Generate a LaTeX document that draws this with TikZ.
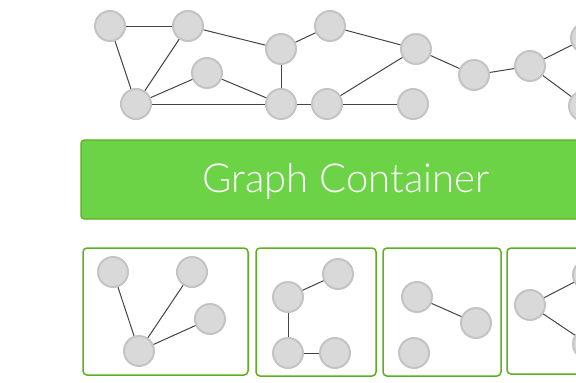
\documentclass[tikz,border=0pt]{standalone}
\usepackage{fontspec}
\newfontfamily\boxfont{Lato Light}
\usepackage{tikz}
\usetikzlibrary{positioning}
\definecolor{nodefill}{HTML}{D9D9D9}
\definecolor{nodeline}{HTML}{C4C4C4}
\definecolor{edgecol}{HTML}{444444}
\definecolor{greenfill}{HTML}{6CD346}
\definecolor{greenline}{HTML}{5BB01E}

\begin{document}
\begin{tikzpicture}[
    x=1pt, y=-1pt,
    vertex/.style={circle, draw=nodeline, fill=nodefill, line width=2pt, minimum size=30pt, inner sep=0pt},
    link/.style={draw=edgecol, line width=1pt},
    container/.style={rectangle, draw=greenline, fill=greenfill, line width=1.2pt, rounded corners=3pt},
    part/.style={rectangle, draw=greenline, line width=1.5pt, rounded corners=4pt}
]
\useasboundingbox (0,0) rectangle (576,383);
% Whole graph
\node[vertex] (a) at (110,26) {};
\node[vertex] (b) at (188,26) {};
\node[vertex] (c) at (281,49) {};
\node[vertex] (d) at (207,73) {};
\node[vertex] (e) at (136,104) {};
\node[vertex] (f) at (281,104) {};
\node[vertex] (g) at (327,104) {};
\node[vertex] (h) at (330,26) {};
\node[vertex] (i) at (416,49) {};
\node[vertex] (j) at (413,104) {};
\node[vertex] (k) at (474,75) {};
\node[vertex] (l) at (530,66) {};
\node[vertex] (m) at (586,38) {};
\node[vertex] (n) at (584,106) {};
\foreach \s/\t in {a/b, a/e, b/e, b/c, c/h, c/f, d/e, d/f, e/f, f/g, g/i, g/j, h/i, i/k, k/l, l/m, l/n}
    \draw[link] (\s) -- (\t);
% Container
\draw[container] (81,140) rectangle (590,219);
\node[text=white, font=\boxfont\fontsize{40}{44}\selectfont] (title) at (346,181) {Graph Container};
% Parts
\draw[part] (83,248) rectangle (248,375);
\draw[part] (256,248) rectangle (376,376);
\draw[part] (383,248) rectangle (501,376);
\draw[part] (507,248) rectangle (600,374);
% Part one
\node[vertex] (p1a) at (113,272) {};
\node[vertex] (p1b) at (192,272) {};
\node[vertex] (p1c) at (210,319) {};
\node[vertex] (p1d) at (139,351) {};
\foreach \t in {p1a, p1b, p1c}
    \draw[link] (p1d) -- (\t);
% Part two
\node[vertex] (p2a) at (288,297) {};
\node[vertex] (p2b) at (338,274) {};
\node[vertex] (p2c) at (288,353) {};
\node[vertex] (p2d) at (335,353) {};
\draw[link] (p2a) -- (p2b);
\draw[link] (p2a) -- (p2c);
\draw[link] (p2c) -- (p2d);
% Part three
\node[vertex] (p3a) at (417,297) {};
\node[vertex] (p3b) at (476,323) {};
\node[vertex] (p3c) at (414,353) {};
\draw[link] (p3a) -- (p3b);
% Part four
\node[vertex] (p4a) at (530,305) {};
\node[vertex] (p4b) at (588,275) {};
\node[vertex] (p4c) at (588,344) {};
\draw[link] (p4a) -- (p4b);
\draw[link] (p4a) -- (p4c);
\end{tikzpicture}
\end{document}
